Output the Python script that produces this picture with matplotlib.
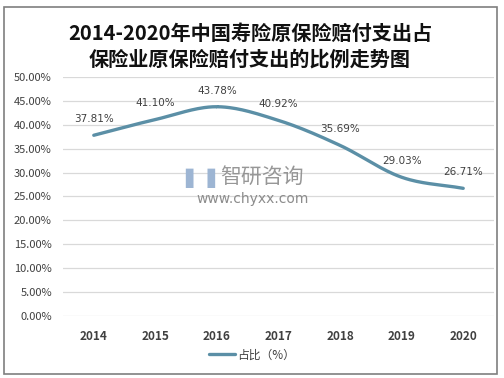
import matplotlib
matplotlib.use("Agg")
import matplotlib.pyplot as plt
import numpy as np
from matplotlib.patches import Rectangle

plt.rcParams['font.family'] = ['Noto Sans CJK SC', 'DejaVu Sans']

years = ['2014', '2015', '2016', '2017', '2018', '2019', '2020']
values = [37.81, 41.10, 43.78, 40.92, 35.69, 29.03, 26.71]
yticks = [0, 5, 10, 15, 20, 25, 30, 35, 40, 45, 50]
title = '2014-2020年中国寿险原保险赔付支出占\n保险业原保险赔付支出的比例走势图'
series_name = '占比（%）'

W, H = 504, 378
fig = plt.figure(figsize=(W / 100, H / 100), dpi=100)
ax = fig.add_axes([63 / W, 1 - 316 / H, (494 - 63) / W, (316 - 77) / H])

# smooth curve (Catmull-Rom through the data points)
x = np.arange(len(values))
y = np.array(values)
px = np.concatenate([[x[0] - (x[1] - x[0])], x, [x[-1] + (x[-1] - x[-2])]])
py = np.concatenate([[y[0] - (y[1] - y[0])], y, [y[-1] + (y[-1] - y[-2])]])
xs, ys = [], []
for i in range(1, len(px) - 2):
    p0, p1, p2, p3 = py[i - 1], py[i], py[i + 1], py[i + 2]
    q0, q1, q2, q3 = px[i - 1], px[i], px[i + 1], px[i + 2]
    t = np.linspace(0, 1, 30)
    for arr, a0, a1, a2, a3 in ((ys, p0, p1, p2, p3), (xs, q0, q1, q2, q3)):
        arr.extend(0.5 * ((2 * a1) + (-a0 + a2) * t + (2 * a0 - 5 * a1 + 4 * a2 - a3) * t ** 2
                          + (-a0 + 3 * a1 - 3 * a2 + a3) * t ** 3))
ax.plot(xs, ys, color='#5B8FA6', lw=2.4, solid_capstyle='round', zorder=3, label=series_name)

for xi, v in zip(x, values):
    ax.annotate(f'{v:.2f}%', (xi, v), xytext=(0, 8), textcoords='offset points',
                ha='center', va='bottom', fontsize=7.5, color='#404040',
                family=['DejaVu Sans'])

ax.set_xlim(-0.5, len(values) - 0.5)
ax.set_ylim(0, 50)
ax.set_yticks(yticks)
ax.set_yticklabels([f'{t:.2f}%' for t in yticks], fontsize=8, color='#404040')
ax.set_xticks(x)
ax.set_xticklabels(years, fontsize=8.5, fontweight='bold', color='#404040')
ax.grid(axis='y', color='#D9D9D9', lw=0.9)
ax.set_axisbelow(True)
for s in ax.spines.values():
    s.set_visible(False)
ax.tick_params(length=0, pad=10)
ax.tick_params(axis='y', pad=8)

fig.text(250 / W, 1 - 46 / H, title, ha='center', va='center', fontsize=14.5,
         fontweight='bold', color='#111111', linespacing=1.25)

leg = fig.legend(loc='center', bbox_to_anchor=(252 / W, 1 - 355 / H), frameon=False,
                 fontsize=8.5, handlelength=2.2, handletextpad=0.2)
for t in leg.get_texts():
    t.set_color('#404040')

# watermark
fig.text(200 / W, 1 - 178 / H, '▌▐', fontsize=14, color='#9DB5D3', ha='center', va='center',
         family=['DejaVu Sans'])
fig.text(262 / W, 1 - 177 / H, '智研咨询', fontsize=15, color='#8C8C8C', ha='center',
         va='center', alpha=0.9)
fig.text(253 / W, 1 - 199 / H, 'www.chyxx.com', fontsize=10, color='#8C8C8C', ha='center',
         va='center', family=['DejaVu Sans'])

fig.patches.append(Rectangle((4 / W, 1 - 374 / H), 493 / W, 367 / H, transform=fig.transFigure,
                             fill=False, edgecolor='#7F7F7F', lw=1.2))

fig.savefig('out.png', dpi=100)
